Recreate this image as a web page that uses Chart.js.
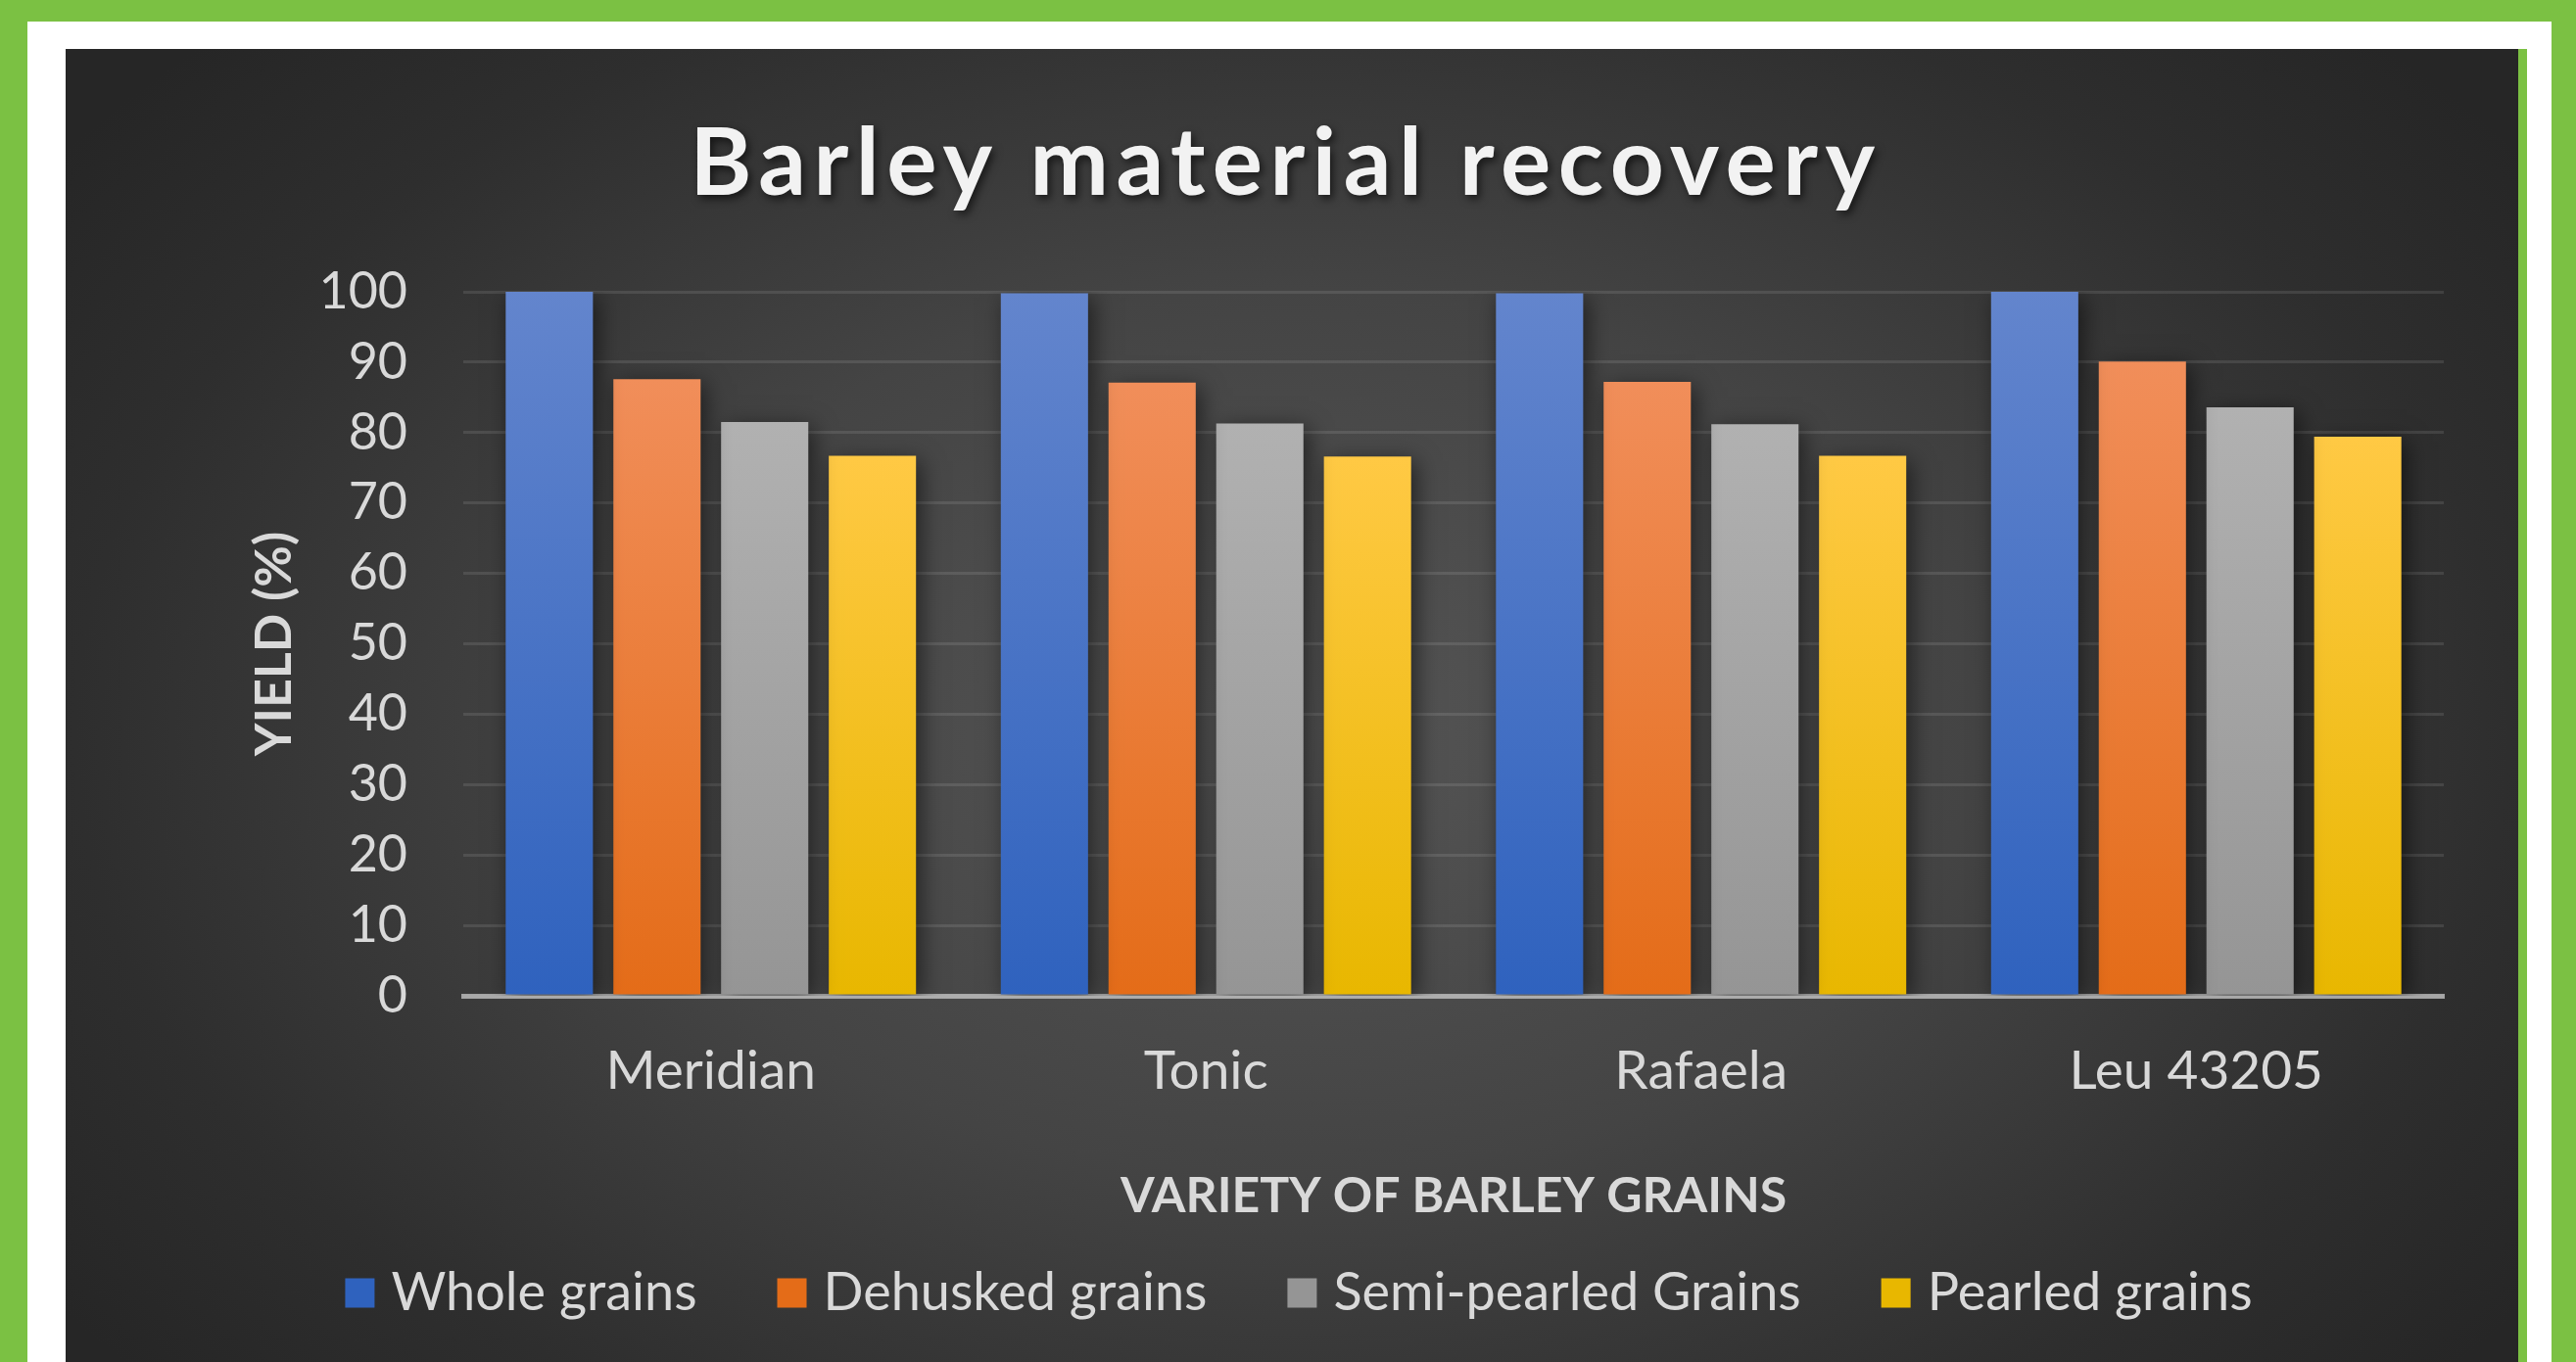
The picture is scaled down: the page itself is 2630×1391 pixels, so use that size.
<!DOCTYPE html>
<html>
<head>
<meta charset="utf-8">
<title>Barley material recovery</title>
<script src="https://cdn.jsdelivr.net/npm/chart.js@4.4.1/dist/chart.umd.min.js"></script>
<style>
  html, body { margin: 0; padding: 0; }
  body {
    width: 2630px; height: 1391px; overflow: hidden;
    background: #7bc143; position: relative;
  }
  #frame {
    position: absolute; left: 28px; top: 22px;
    width: 2577px; height: 1400px; background: #ffffff;
  }
  #panel {
    position: absolute; left: 67px; top: 50px;
    width: 2504px; height: 1341px;
    border-right: 9px solid #7bc143;
    background: radial-gradient(ellipse 62% 75% at 50% 52%, #555555 0%, #444444 45%, #2e2e2e 80%, #262626 100%);
  }
  #chart { display: block; }
</style>
</head>
<body>
<div id="frame"></div>
<div id="panel"><canvas id="chart" width="2504" height="1341"></canvas></div>
<script>
const chartTitle = "Barley material recovery";
const varieties = ["Meridian", "Tonic", "Rafaela", "Leu 43205"];
const seriesNames = ["Whole grains", "Dehusked grains", "Semi-pearled Grains", "Pearled grains"];
const wholeGrains = [100, 99.8, 99.8, 100];
const dehuskedGrains = [87.6, 87.1, 87.2, 90.1];
const semiPearledGrains = [81.5, 81.3, 81.2, 83.6];
const pearledGrains = [76.7, 76.6, 76.7, 79.4];
const yMin = 0, yMax = 100, yStep = 10;

// top colour, bottom colour, legend colour
const barColors = [
  ["#6385cd", "#2f62be", "#4472c4"],
  ["#f18e5a", "#e46c18", "#ed7d31"],
  ["#b1b1b1", "#959595", "#a5a5a5"],
  ["#ffc944", "#e8b700", "#ffc000"]
];

const FONT = "Lato, 'Open Sans', sans-serif";
const TEXT = "#d9d9d9";

const barFill = (i) => (context) => {
  const c = barColors[i];
  if (context.type !== "data") return c[2];
  const chart = context.chart;
  const y = chart.scales.y;
  if (!chart.chartArea || !y) return c[2];
  const top = y.getPixelForValue(context.parsed.y);
  const bottom = y.getPixelForValue(0);
  const g = chart.ctx.createLinearGradient(0, top, 0, bottom);
  g.addColorStop(0, c[0]);
  g.addColorStop(1, c[1]);
  return g;
};

const allSeries = [wholeGrains, dehuskedGrains, semiPearledGrains, pearledGrains];

const titlePlugin = {
  id: "spacedTitle",
  afterDraw(chart) {
    const ctx = chart.ctx;
    ctx.save();
    ctx.font = "bold 96px " + FONT;
    ctx.letterSpacing = "7.5px";
    ctx.textAlign = "center";
    ctx.textBaseline = "middle";
    ctx.fillStyle = "#f2f2f2";
    ctx.shadowColor = "rgba(0,0,0,0.6)";
    ctx.shadowBlur = 8;
    ctx.shadowOffsetX = 3;
    ctx.shadowOffsetY = 4;
    ctx.fillText(chartTitle, chart.width / 2 - 6, 118);
    ctx.restore();
  }
};

const shadowPlugin = {
  id: "barShadow",
  beforeDatasetsDraw(chart) {
    const ctx = chart.ctx;
    ctx.save();
    ctx.shadowColor = "rgba(0,0,0,0.55)";
    ctx.shadowBlur = 22;
    ctx.shadowOffsetX = 5;
    ctx.shadowOffsetY = 5;
  },
  afterDatasetsDraw(chart) {
    chart.ctx.restore();
  }
};

// the legend row is centred with its trailing padding, nudge it back
const legendShift = {
  id: "legendShift",
  afterLayout(chart) {
    if (chart.legend) {
      chart.legend.left += 50;
      chart.legend.right += 50;
    }
  }
};

const ctx = document.getElementById("chart").getContext("2d");
const barleyChart = new Chart(ctx, {
  type: "bar",
  data: {
    labels: varieties,
    datasets: allSeries.map((values, i) => ({
      label: seriesNames[i],
      data: values,
      backgroundColor: barFill(i),
      borderWidth: 0,
      categoryPercentage: 0.87,
      barPercentage: 0.81
    }))
  },
  options: {
    responsive: false,
    animation: false,
    devicePixelRatio: 1,
    layout: {
      padding: { top: 248, right: 76, left: 0, bottom: 33.5 }
    },
    scales: {
      y: {
        min: yMin,
        max: yMax,
        ticks: {
          stepSize: yStep,
          color: TEXT,
          padding: 57,
          font: { family: FONT, size: 52 }
        },
        grid: {
          color: "rgba(255,255,255,0.1)",
          lineWidth: 3,
          drawTicks: false
        },
        border: { display: false },
        title: {
          display: true,
          text: "YIELD (%)",
          color: TEXT,
          font: { family: FONT, size: 52, weight: "bold" },
          padding: { top: 182, bottom: 0 }
        },
        afterFit: (scale) => { scale.width = 406; }
      },
      x: {
        z: 1,
        grid: { display: false },
        border: { color: "rgba(205,205,205,0.72)", width: 5 },
        ticks: {
          color: TEXT,
          padding: 36,
          font: { family: FONT, size: 55 }
        },
        title: {
          display: true,
          text: "VARIETY OF BARLEY GRAINS",
          color: TEXT,
          font: { family: FONT, size: 50, weight: "bold" },
          padding: { top: 0, bottom: -50.5 }
        },
        afterFit: (scale) => { scale.height = 184.5; }
      }
    },
    plugins: {
      legend: {
        position: "bottom",
        labels: {
          color: TEXT,
          usePointStyle: true,
          pointStyle: "rect",
          boxWidth: 10,
          boxHeight: 30,
          padding: 92,
          font: { family: FONT, size: 54 }
        }
      },
      tooltip: { enabled: false }
    }
  },
  plugins: [shadowPlugin, titlePlugin, legendShift]
});
</script>
</body>
</html>
